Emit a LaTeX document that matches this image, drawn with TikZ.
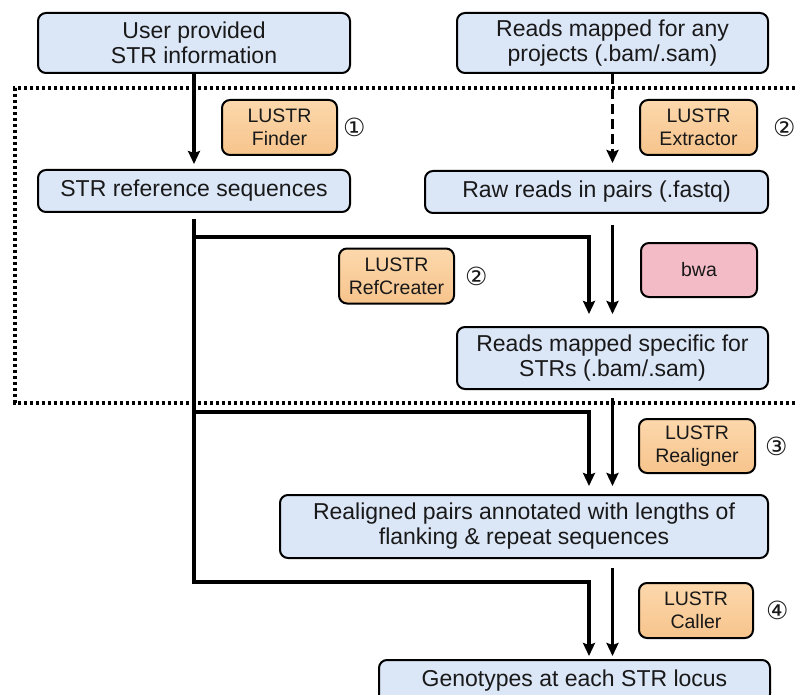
\documentclass[tikz,border=0pt]{standalone}
\usepackage{fontspec}
\setmainfont{Liberation Sans}
\newfontfamily\circfont{DejaVu Sans}
\definecolor{DataBlue}{RGB}{219, 230, 247}
\definecolor{ToolTop}{RGB}{252, 216, 172}
\definecolor{ToolBottom}{RGB}{247, 196, 140}
\definecolor{BwaPink}{RGB}{243, 187, 198}
\usetikzlibrary{arrows.meta, positioning}

\begin{document}
\begin{tikzpicture}[
    x=1pt, y=-1pt,
    every node/.style={font=\fontsize{23}{25}\selectfont, align=center, text=black!90},
    data/.style={draw, line width=2pt, fill=DataBlue, rounded corners=8pt, inner sep=0pt},
    tool/.style={draw, line width=2pt, top color=ToolTop, bottom color=ToolBottom,
                rounded corners=8pt, inner sep=0pt, minimum width=115pt, minimum height=55pt,
                font=\fontsize{19.5}{23}\selectfont},
    aligner/.style={tool, top color=BwaPink, bottom color=BwaPink},
    stepnum/.style={inner sep=0pt, font=\circfont\fontsize{25}{25}\selectfont},
    frame/.style={line width=3.2pt, dash pattern=on 3.2pt off 2.8pt},
    link/.style={line width=3.4pt},
    flow/.style={link, -{Stealth[length=13pt, width=12pt, inset=2pt]}}
]
\useasboundingbox (0,0) rectangle (795,695);

\draw[frame] (795,88) -- (15,88) -- (15,403) -- (795,403);

\node[data, minimum width=312pt, minimum height=60pt] (user) at (194,43) {User provided\\STR information};
\node[data, minimum width=311pt, minimum height=60pt] (bamin) at (612.5,43) {Reads mapped for any\\projects (.bam/.sam)};
\node[data, minimum width=312pt, minimum height=42pt] (strref) at (194,191) {STR reference sequences};
\node[data, minimum width=343pt, minimum height=42pt] (raw) at (596.5,192) {Raw reads in pairs (.fastq)};
\node[data, minimum width=311pt, minimum height=62pt] (mapped) at (612.5,358) {Reads mapped specific for\\STRs (.bam/.sam)};
\node[data, minimum width=488pt, minimum height=63pt] (realigned) at (524,526.5) {Realigned pairs annotated with lengths of\\flanking \& repeat sequences};
\node[data, minimum width=391pt, minimum height=42pt] (genotypes) at (574.5,681) {Genotypes at each STR locus};

\node[tool] (finder) at (279.5,127.5) {LUSTR\\Finder};
\node[tool, minimum width=117pt] (extractor) at (698.5,127.5) {LUSTR\\Extractor};
\node[tool] (refcreater) at (396.5,276) {LUSTR\\RefCreater};
\node[aligner, minimum width=116pt, minimum height=54pt] (bwa) at (699,270) {bwa};
\node[tool, minimum width=116pt, minimum height=54pt] (realigner) at (697,446) {LUSTR\\Realigner};
\node[tool, minimum width=114pt] (caller) at (696,610.5) {LUSTR\\Caller};

\node[stepnum, right=5pt of finder] (n1) {①};
\node[stepnum, right=15pt of extractor] (n2) {②};
\node[stepnum, right=10pt of refcreater] (n2b) {②};
\node[stepnum, right=9pt of realigner] (n3) {③};
\node[stepnum, right=12pt of caller] (n4) {④};

\draw[flow, shorten >=5pt] (user) -- (strref);
\draw[flow, dash pattern=on 10pt off 5pt, shorten >=7pt] (bamin.south) -- (bamin.south |- raw.north);
\draw[flow, shorten <=11pt, shorten >=12pt] (mapped.north |- raw.south) -- (mapped.north);
\draw[flow, shorten <=8pt, shorten >=8pt] (mapped.south) -- (mapped.south |- realigned.north);
\draw[flow, shorten <=9pt, shorten >=3pt] (mapped.south |- realigned.south) -- (mapped.south |- genotypes.north);

\coordinate (trunk) at ([yshift=-6pt]strref.south);
\coordinate (tee1) at (589,237);
\coordinate (tee2) at (589,412);
\coordinate (tee3) at (589,582);
\draw[flow, shorten >=3pt] (trunk) |- (tee3) -- (tee3 |- genotypes.north);
\draw[flow, shorten >=12pt] (trunk |- tee1) -- (tee1) -- (tee1 |- mapped.north);
\draw[flow, shorten >=8pt] (trunk |- tee2) -- (tee2) -- (tee2 |- realigned.north);
\end{tikzpicture}
\end{document}
